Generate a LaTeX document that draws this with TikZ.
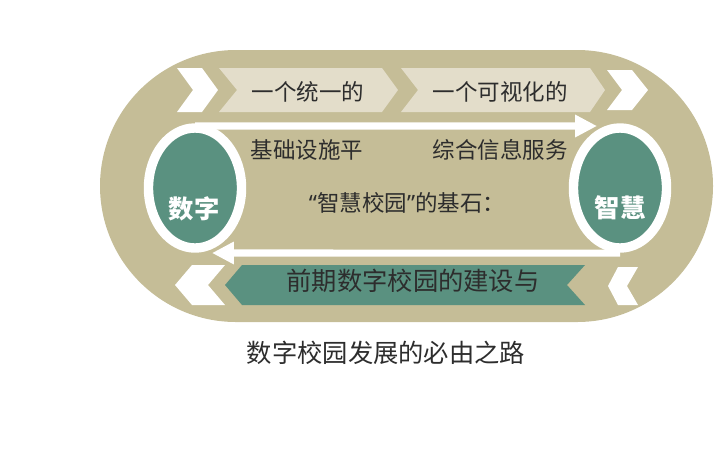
\documentclass[tikz,border=0pt]{standalone}
\usepackage{fontspec}
\setmainfont{Noto Sans CJK SC}
\newfontfamily\quotefont{Noto Sans}
\usetikzlibrary{shapes.geometric,arrows.meta}
\definecolor{tan}{RGB}{197,189,151}
\definecolor{paleband}{RGB}{227,221,202}
\definecolor{jade}{RGB}{90,145,128}
\definecolor{ink}{RGB}{45,45,45}
\begin{document}
\begin{tikzpicture}[
    x=0.025cm, y=-0.025cm,
    hub/.style={ellipse, draw=white, fill=jade, line width=6.7pt, minimum width=2.325cm, minimum height=3cm, inner sep=0pt, outer sep=0pt},
    hubtext/.style={text=white, font=\fontsize{18}{20}\selectfont\bfseries},
    bandtext/.style={text=ink, font=\fontsize{16}{19}\selectfont},
    bigtext/.style={text=ink, font=\fontsize{18}{21}\selectfont},
    flow/.style={draw=white, line width=5pt, -{Triangle[width=15pt,length=15.5pt]}}
]
    \useasboundingbox (0,0) rectangle (720,450);

    % Track
    \fill[tan, rounded corners=3.4cm] (100,50) rectangle (713,322);

    % Upper chevrons
    \fill[white] (177,68) -- (202,68) -- (218,90) -- (202,112) -- (177,112) -- (193,90) -- cycle;
    \fill[paleband] (219,68) -- (382,68) -- (398,90) -- (382,112) -- (219,112) -- (237,90) -- cycle;
    \fill[paleband] (401,68) -- (590,68) -- (605,90) -- (590,112) -- (401,112) -- (418,90) -- cycle;
    \fill[white] (607,70) -- (632,70) -- (648,90) -- (632,110) -- (607,110) -- (622,90) -- cycle;
    \node[bandtext] (u1) at (308,92) {一个统一的};
    \node[bandtext] (u2) at (500,92) {一个可视化的};

    % Lower chevrons
    \fill[white] (192,265) -- (225,265) -- (208,285) -- (225,305) -- (192,305) -- (175,285) -- cycle;
    \fill[jade] (242,265) -- (585,265) -- (567,285) -- (585,305) -- (242,305) -- (225,285) -- cycle;
    \fill[white] (618,267) -- (638,267) -- (627,286) -- (638,305) -- (618,305) -- (608,286) -- cycle;
    \node[bigtext] (l1) at (413,281) {前期数字校园的建设与};

    % Hubs
    \node[hub] (dz) at (195,188) {};
    \node[hub] (zh) at (620,188) {};
    \node[hubtext] (dzt) at (194,209) {数字};
    \node[hubtext] (zht) at (620,208) {智慧};

    % Flows between hubs
    \coordinate (tip1) at (597,126);
    \coordinate (tip2) at (212,253);
    \draw[flow] (dz.north) ++(0,-2) -- (tip1);
    \draw[flow] (zh.south) ++(0,5) -- (tip2);

    % Inner texts
    \node[bandtext] (m1) at (307,150) {基础设施平};
    \node[bandtext] (m2) at (500,150) {综合信息服务};
    \node[bandtext] (m3) at (407,203) {{\quotefont “}智慧校园{\quotefont ”}的基石：};

    % Caption
    \node[bigtext] (cap) at (386,353) {数字校园发展的必由之路};
\end{tikzpicture}
\end{document}
